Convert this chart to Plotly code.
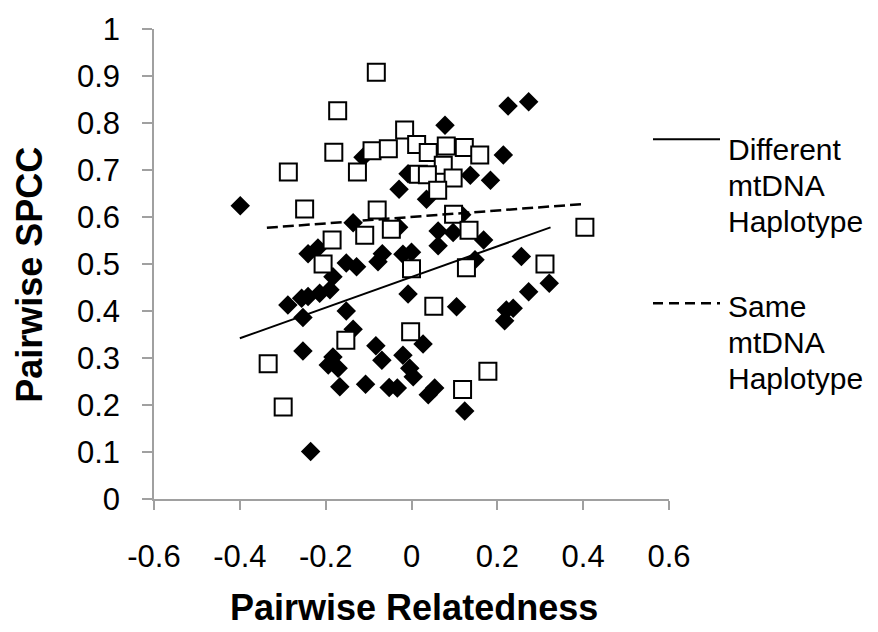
import plotly.graph_objects as go

# Different mtDNA haplotype (filled diamonds)
diff_x = [-0.399, 0.078, -0.113, -0.029, 0.035, -0.008, -0.136, -0.030, 0.062, 0.097,
          0.062, 0.137, 0.184, 0.214, 0.225, 0.273, 0.117, 0.168, 0.148, 0.256,
          0.321, 0.273, 0.237, 0.221, 0.217, 0.105, -0.241, -0.218, -0.152, -0.128,
          -0.078, -0.068, -0.020, 0.000, -0.183, -0.190, -0.214, -0.241, -0.256, -0.288,
          -0.253, -0.152, -0.136, -0.253, -0.183, -0.194, -0.171, -0.167, -0.235, -0.107,
          -0.008, 0.027, -0.083, -0.069, -0.020, -0.004, 0.004, -0.052, -0.033, 0.054,
          0.039, 0.124]
diff_y = [0.624, 0.795, 0.727, 0.659, 0.638, 0.692, 0.588, 0.578, 0.570, 0.567,
          0.539, 0.689, 0.678, 0.732, 0.836, 0.845, 0.605, 0.551, 0.509, 0.516,
          0.459, 0.441, 0.406, 0.402, 0.379, 0.409, 0.522, 0.534, 0.502, 0.494,
          0.505, 0.522, 0.521, 0.525, 0.473, 0.445, 0.438, 0.431, 0.427, 0.413,
          0.386, 0.400, 0.361, 0.315, 0.302, 0.285, 0.278, 0.239, 0.101, 0.244,
          0.436, 0.330, 0.326, 0.295, 0.306, 0.278, 0.260, 0.237, 0.236, 0.236,
          0.222, 0.187]

# Same mtDNA haplotype (open squares)
same_x = [-0.082, -0.172, -0.016, -0.181, -0.092, -0.054, 0.012, 0.039, 0.081, 0.123,
          0.159, 0.074, 0.016, 0.037, 0.097, 0.061, -0.126, -0.287, -0.249, -0.080,
          0.098, -0.047, -0.109, -0.185, 0.134, 0.404, -0.206, 0.000, 0.128, 0.311,
          0.052, -0.153, -0.002, -0.334, -0.299, 0.119, 0.178]
same_y = [0.908, 0.826, 0.785, 0.738, 0.741, 0.745, 0.754, 0.737, 0.751, 0.748,
          0.732, 0.710, 0.691, 0.690, 0.683, 0.657, 0.696, 0.696, 0.617, 0.615,
          0.606, 0.574, 0.561, 0.551, 0.572, 0.578, 0.500, 0.490, 0.492, 0.500,
          0.410, 0.338, 0.356, 0.288, 0.196, 0.233, 0.272]

# Linear trend lines (end points)
diff_trend_x = [-0.400, 0.324]
diff_trend_y = [0.342, 0.578]
same_trend_x = [-0.337, 0.406]
same_trend_y = [0.577, 0.628]

x_tickvals = [-0.6, -0.4, -0.2, 0, 0.2, 0.4, 0.6]
x_ticktext = ["-0.6", "-0.4", "-0.2", "0", "0.2", "0.4", "0.6"]
y_tickvals = [0, 0.1, 0.2, 0.3, 0.4, 0.5, 0.6, 0.7, 0.8, 0.9, 1]
y_ticktext = ["0", "0.1", "0.2", "0.3", "0.4", "0.5", "0.6", "0.7", "0.8", "0.9", "1"]

legend_diff_lines = ["Different", "mtDNA", "Haplotype"]
legend_same_lines = ["Same", "mtDNA", "Haplotype"]
x_title = "Pairwise Relatedness"
y_title = "Pairwise SPCC"

FONT = "Liberation Sans, Arial, sans-serif"
AXC = "#a0a0a0"

W, H = 878, 632
ML, MR, MT, MB = 154, 209, 21, 133
PW, PH = W - ML - MR, H - MT - MB


def px2paper_x(px):
    return (px - ML) / PW


def px2paper_y(py):
    return (H - MB - py) / PH


fig = go.Figure()
fig.add_trace(go.Scatter(x=diff_x, y=diff_y, mode="markers", showlegend=False,
                         marker=dict(symbol="diamond", size=15, color="black",
                                     line=dict(width=0))))
fig.add_trace(go.Scatter(x=same_x, y=same_y, mode="markers", showlegend=False,
                         marker=dict(symbol="square", size=17, color="white",
                                     line=dict(width=2, color="black"))))
fig.add_trace(go.Scatter(x=diff_trend_x, y=diff_trend_y, mode="lines", showlegend=False,
                         line=dict(color="black", width=2)))
fig.add_trace(go.Scatter(x=same_trend_x, y=same_trend_y, mode="lines", showlegend=False,
                         line=dict(color="black", width=2.5, dash="11px,5px")))

# Legend drawn as line samples + text
fig.add_shape(type="line", xref="paper", yref="paper",
              x0=px2paper_x(653), x1=px2paper_x(720), y0=px2paper_y(133), y1=px2paper_y(133),
              line=dict(color="black", width=2))
fig.add_shape(type="line", xref="paper", yref="paper",
              x0=px2paper_x(653), x1=px2paper_x(720), y0=px2paper_y(300), y1=px2paper_y(300),
              line=dict(color="black", width=2.5, dash="10px,6px"))
for i, t in enumerate(legend_diff_lines):
    fig.add_annotation(xref="paper", yref="paper", x=px2paper_x(726),
                       y=px2paper_y(143.5 + 36.7 * i),
                       xanchor="left", yanchor="middle", showarrow=False, text=t,
                       font=dict(family=FONT, size=30, color="black"))
for i, t in enumerate(legend_same_lines):
    fig.add_annotation(xref="paper", yref="paper", x=px2paper_x(726),
                       y=px2paper_y(303.5 + 36.7 * i),
                       xanchor="left", yanchor="middle", showarrow=False, text=t,
                       font=dict(family=FONT, size=30, color="black"))

# Axis titles
fig.add_annotation(xref="paper", yref="paper", x=px2paper_x(413.5), y=px2paper_y(609),
                   xanchor="center", yanchor="middle", showarrow=False,
                   text="<b>" + x_title + "</b>",
                   font=dict(family=FONT, size=36, color="black"))
fig.add_annotation(xref="paper", yref="paper", x=px2paper_x(30), y=px2paper_y(271),
                   xanchor="center", yanchor="middle", showarrow=False, textangle=-90,
                   text="<b>" + y_title + "</b>",
                   font=dict(family=FONT, size=36, color="black"))

fig.update_layout(
    width=W, height=H,
    margin=dict(l=ML, r=MR, t=MT, b=MB),
    plot_bgcolor="white", paper_bgcolor="white",
    font=dict(family=FONT, size=31, color="black"),
    xaxis=dict(range=[-0.6, 0.6], tickvals=x_tickvals, ticktext=x_ticktext,
               showgrid=False, zeroline=False, showline=True, linecolor=AXC, linewidth=1.5,
               ticks="outside", ticklen=9, tickcolor=AXC, tickwidth=1.5,
               ticklabelstandoff=20,
               tickfont=dict(family=FONT, size=31, color="black")),
    yaxis=dict(range=[0, 1], tickvals=y_tickvals, ticktext=y_ticktext,
               showgrid=False, zeroline=False, showline=True, linecolor=AXC, linewidth=1.5,
               ticks="outside", ticklen=10, tickcolor=AXC, tickwidth=1.5,
               ticklabelstandoff=16,
               tickfont=dict(family=FONT, size=31, color="black")),
)

fig.write_html("out.html")
